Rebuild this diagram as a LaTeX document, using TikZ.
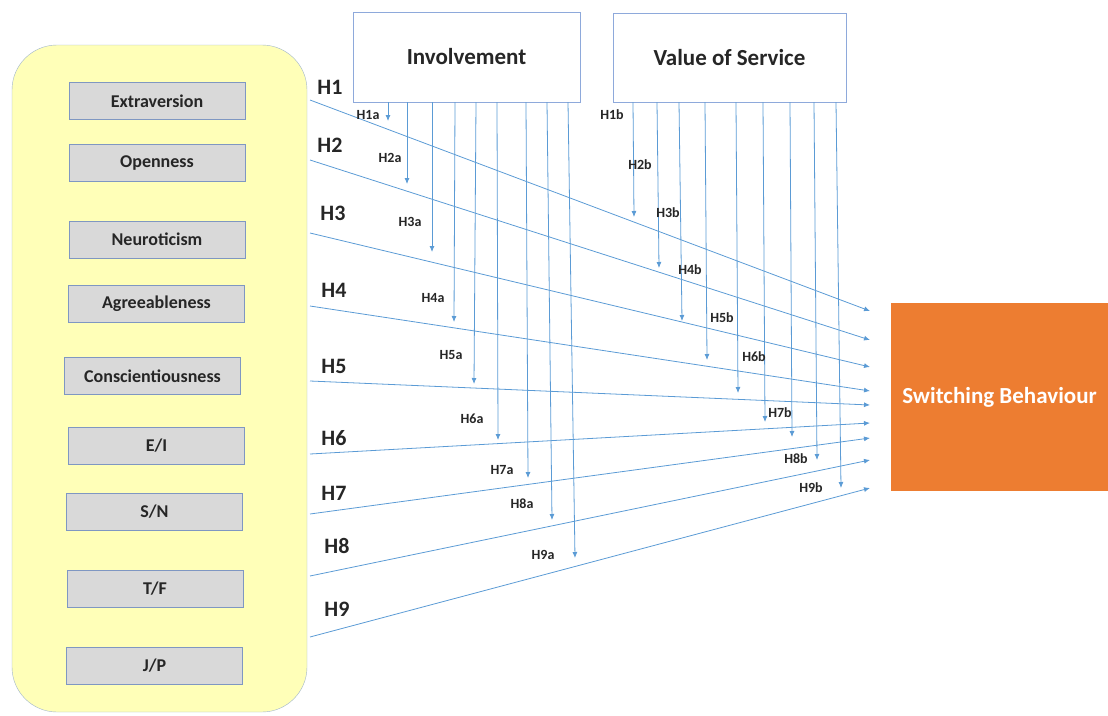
\documentclass[tikz,border=0pt]{standalone}
\usepackage{fontspec}
\setmainfont{Carlito}
\usetikzlibrary{arrows.meta}

\definecolor{panelyellow}{HTML}{FFFFB8}
\definecolor{paneledge}{HTML}{9FB4CC}
\definecolor{traitgray}{HTML}{D9D9D9}
\definecolor{traitedge}{HTML}{7F97C2}
\definecolor{boxedge}{HTML}{8EA9DB}
\definecolor{hypblue}{HTML}{5B9BD5}
\definecolor{outorange}{HTML}{ED7D31}
\definecolor{textdark}{HTML}{262626}

\begin{document}
\begin{tikzpicture}[x=1pt,y=-1pt,
	panel/.style={draw=paneledge, fill=panelyellow, rounded corners=45pt, minimum width=295pt, minimum height=667pt},
	trait/.style={draw=traitedge, fill=traitgray, minimum width=176pt, minimum height=37pt, inner sep=0pt, text=textdark, font=\fontsize{18}{20}\selectfont\bfseries},
	moderator/.style={draw=boxedge, fill=white, inner sep=0pt, text=textdark, font=\fontsize{23}{26}\selectfont\bfseries},
	hyp/.style={draw=hypblue, line width=0.8pt, -{Latex[length=6pt,width=5pt]}},
	hlab/.style={inner sep=0pt, text=textdark, font=\fontsize{22}{24}\selectfont\bfseries},
	sublab/.style={inner sep=0pt, text=textdark, font=\fontsize{14}{16}\selectfont\bfseries}]
			\useasboundingbox (0,0) rectangle (1108,715);
			% personality traits
			\node[panel] (traits) at (159.5,378.5) {};
			\foreach \name/\x/\y/\txt in {ext/157/101/Extraversion, open/157/163/Openness, neuro/157/239.5/Neuroticism, agree/156.5/303.5/Agreeableness, consc/152.5/376/Conscientiousness, ei/156.5/446/{E/I}, sn/154.5/511.5/{S/N}, tf/155/589/{T/F}, jp/154.5/665.5/{J/P}}{
				\node[trait] (\name) at (\x,\y) {\txt};}
			% moderators and outcome
			\node[moderator, minimum width=227pt, minimum height=90pt] (inv) at (466.5,57) {Involvement};
			\node[moderator, minimum width=233pt, minimum height=89pt] (vos) at (729.5,57.5) {Value of Service};
			\node[fill=outorange, minimum width=217pt, minimum height=188pt, inner sep=0pt, text=white, font=\fontsize{23}{26}\selectfont\bfseries] (sb) at (999.5,397) {Switching Behaviour};
			% direct effects
			\foreach \i/\ya/\yb/\lx/\ly in {1/100/311/330/87, 2/160/340/330/145, 3/233/367/333/213, 4/306/391/334/290, 5/381/405/334/366, 6/454/423/334/438, 7/514/438/334/493, 8/576/460/337/546, 9/637/488/337/609}{
				\coordinate (h\i s) at (310,\ya);
				\coordinate (h\i e) at (870,\yb);
				\draw[hyp] (h\i s) -- (h\i e);
				\node[hlab] (hl\i) at (\lx,\ly) {H\i};}
			% involvement
			\foreach \i/\xt/\xb/\yt/\lx/\ly in {1/388/388/121/368/115, 2/407/407/184/390/158, 3/432/432/252/410/222, 4/455/454/322/433/298, 5/476/474/384/451/355, 6/497/498/440/472/419, 7/526/528/478/502/470, 8/547/552/520/522/504, 9/568/575/558/543/555}{
				\coordinate (ia\i) at (\xb,\yt);
				\draw[hyp] (inv.south -| \xt,0) -- (ia\i);
				\node[sublab] (ial\i) at (\lx,\ly) {H\i a};}
			% value of service
			\foreach \i/\xt/\xb/\yt/\lx/\ly in {1/633/634/217/612/115, 2/657/659/268/640/165, 3/679/682/321/668/213, 4/705/707/360/690/270, 5/736/738/393/722/318, 6/763/765/422/754/357, 7/790/792/437/780/413, 8/814/817/460/796/459, 9/836/841/488/811/488}{
				\coordinate (vb\i) at (\xb,\yt);
				\draw[hyp] (vos.south -| \xt,0) -- (vb\i);
				\node[sublab] (vbl\i) at (\lx,\ly) {H\i b};}
		\end{tikzpicture}
\end{document}
